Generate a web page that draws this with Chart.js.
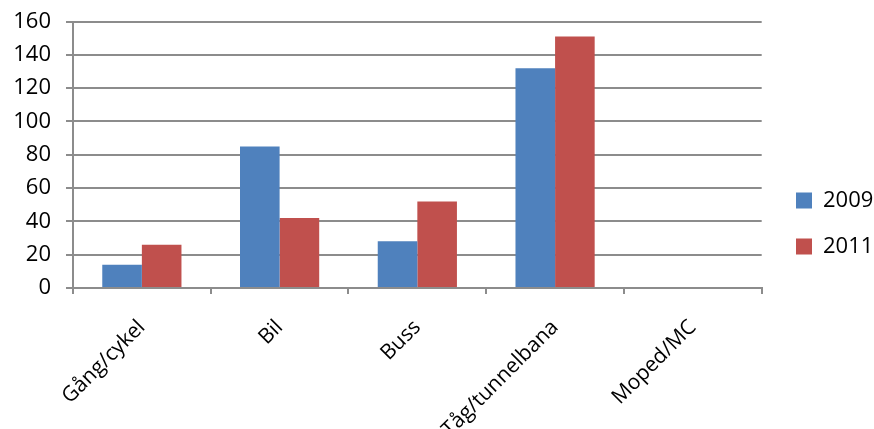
<!DOCTYPE html>
<html>
<head>
<meta charset="utf-8">
<script src="https://cdn.jsdelivr.net/npm/chart.js@4"></script>
<style>
  html, body { margin: 0; padding: 0; background: #fff; }
  #wrap { width: 874px; height: 429px; }
</style>
</head>
<body>
<div id="wrap"><canvas id="barChart" width="874" height="429"></canvas></div>
<script>
// data
const categories = ['Gång/cykel', 'Bil', 'Buss', 'Tåg/tunnelbana', 'Moped/MC'];
const values2009 = [14, 85, 28, 132, 0];
const values2011 = [26, 42, 52, 151, 0];
const seriesNames = ['2009', '2011'];
const yMin = 0;
const yMax = 160;
const yStep = 20;

const blue = '#4F81BD';
const red = '#C0504D';
const gridGray = '#8c8c8c';
const font = { family: '"Open Sans", sans-serif', size: 22 };
const xFont = { family: '"Open Sans", sans-serif', size: 21 };
const legendPad = 24;

// put the legend where the original has it (right of the plot, a bit lower)
const legendShift = {
    id: 'legendShift',
    afterLayout(chart) {
        const lg = chart.legend;
        if (!lg) return;
        const dx = (796 - legendPad) - lg.left;
        const dy = 9;
        lg.left += dx; lg.right += dx;
        lg.top += dy; lg.bottom += dy;
    }
};

const ctx = document.getElementById('barChart').getContext('2d');
new Chart(ctx, {
    type: 'bar',
    data: {
        labels: categories,
        datasets: [
            { label: seriesNames[0], data: values2009, backgroundColor: blue, borderWidth: 0 },
            { label: seriesNames[1], data: values2011, backgroundColor: red, borderWidth: 0 }
        ]
    },
    options: {
        responsive: false,
        animation: false,
        layout: { padding: { top: 0, right: 1, left: 0, bottom: 0 } },
        datasets: { bar: { categoryPercentage: 0.575, barPercentage: 1 } },
        plugins: {
            tooltip: { enabled: false },
            legend: {
                position: 'right',
                labels: {
                    font: font,
                    color: '#000',
                    boxWidth: 16,
                    boxHeight: 16,
                    padding: legendPad
                }
            }
        },
        scales: {
            x: {
                grid: { offset: true, drawOnChartArea: false, drawTicks: true, tickLength: 6, color: gridGray, lineWidth: 2 },
                border: { color: gridGray, width: 2 },
                ticks: { font: xFont, color: '#000', maxRotation: 45, minRotation: 45, padding: 21 },
                afterFit: (scale) => { scale.height = 141; }
            },
            y: {
                min: yMin,
                max: yMax,
                grid: { color: gridGray, lineWidth: 2, tickLength: 7 },
                border: { color: gridGray, width: 2 },
                ticks: { font: font, color: '#000', stepSize: yStep, padding: 15 },
                afterFit: (scale) => { scale.width = 73; scale.paddingTop = 21.5; }
            }
        }
    },
    plugins: [legendShift]
});
</script>
</body>
</html>
